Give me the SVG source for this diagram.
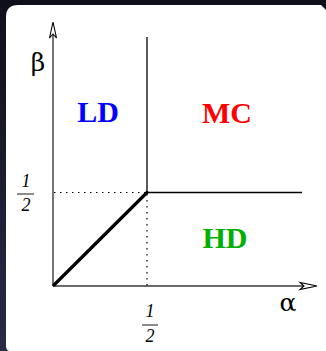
<svg xmlns="http://www.w3.org/2000/svg" width="326" height="351" viewBox="0 0 326 351">
<defs>
<linearGradient id="bg" x1="0" y1="0" x2="0" y2="1">
<stop offset="0" stop-color="#0f0f1c"/>
<stop offset="1" stop-color="#2a2a46"/>
</linearGradient>
<style>
.axis{stroke:#3a3a3a;stroke-width:1.4;fill:none}
.line{stroke:#000;stroke-width:1.3;fill:none}
.dot{stroke:#000;stroke-width:1.2;stroke-dasharray:1.5 4.5;fill:none}
.thick{stroke:#000;stroke-width:3.2;fill:none;stroke-linecap:round}
.head{fill:#fff;stroke:#000;stroke-width:1.1;stroke-linejoin:miter}
.reg{font-family:"Liberation Serif",serif;font-weight:bold;font-size:30px;text-anchor:middle}
.greek{font-family:"DejaVu Serif","Liberation Serif",serif;font-size:25px;text-anchor:middle}
.frac{font-family:"Liberation Serif",serif;font-style:italic;font-size:18px;text-anchor:middle}
</style>
</defs>
<rect x="0" y="0" width="326" height="351" fill="url(#bg)"/>
<path d="M6,17 Q6,5 18,5 L321,5 L326,10 L326,351 L10,351 Q6,351 6,346 Z" fill="#fff"/>
<g id="connectors">
<line class="axis" x1="53" y1="286" x2="53" y2="30"/>
<path class="head" d="M53,22 L56.5,38 L53,34 L49.5,38 Z"/>
<line class="axis" x1="53" y1="286" x2="309" y2="286"/>
<path class="head" d="M317,286 L300,289.5 L304,286 L300,282.5 Z"/>
<line class="line" x1="147" y1="37" x2="147" y2="192.5"/>
<line class="line" x1="147" y1="192.5" x2="302" y2="192.5"/>
<line class="dot" x1="54" y1="192.5" x2="146" y2="192.5"/>
<line class="dot" x1="147" y1="194" x2="147" y2="286"/>
<line class="thick" x1="54" y1="285" x2="147" y2="192.5"/>
</g>
<g id="beta"><text class="greek" x="38" y="71">β</text></g>
<g id="alpha"><text class="greek" x="288" y="311">α</text></g>
<g id="LD"><text class="reg" x="98" y="122" fill="#0000ff">LD</text></g>
<g id="MC"><text class="reg" x="227" y="123" fill="#ff0000">MC</text></g>
<g id="HD"><text class="reg" x="225" y="248" fill="#00b000">HD</text></g>
<g id="half-y">
<text class="frac" x="26" y="187">1</text>
<line x1="17" y1="194" x2="34" y2="194" stroke="#000" stroke-width="0.9"/>
<text class="frac" x="26" y="211">2</text>
</g>
<g id="half-x">
<text class="frac" x="150" y="317">1</text>
<line x1="142" y1="325" x2="158" y2="325" stroke="#000" stroke-width="0.9"/>
<text class="frac" x="150" y="342">2</text>
</g>
</svg>
